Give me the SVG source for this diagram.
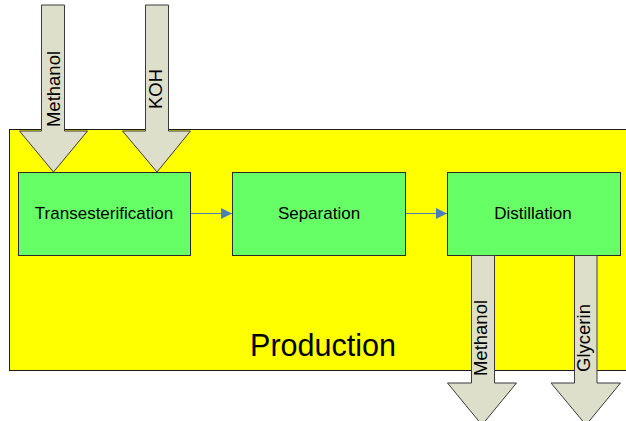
<svg xmlns="http://www.w3.org/2000/svg" width="626" height="421" viewBox="0 0 626 421">
  <style>
    .txt { font-family: "Liberation Sans", Arial, sans-serif; fill: #000; }
    .box { fill: #66FF66; stroke: #2a2a2a; stroke-width: 1; }
    .flow { fill: #DDDFCB; stroke: #3a3a3a; stroke-width: 1; stroke-linejoin: miter; }
    .conn { stroke: #4A7EBB; stroke-width: 1.2; fill: none; }
  </style>
  <defs>
    <marker id="arr" markerWidth="11" markerHeight="11" refX="11" refY="5.5" orient="auto" markerUnits="userSpaceOnUse">
      <path d="M0,0 L11,5.5 L0,11 Z" fill="#4A7EBB"/>
    </marker>
  </defs>
  <rect width="626" height="421" fill="#FFFFFF"/>

  <g id="production">
    <rect x="9.5" y="129.5" width="620" height="241" fill="#FFFF00" stroke="#1a1a1a" stroke-width="1"/>
    <text class="txt" x="323" y="356" font-size="30.5" text-anchor="middle">Production</text>
  </g>

  <g id="input-methanol">
    <path class="flow" d="M41.5,5 L64.5,5 L64.5,131 L87.5,131 L53.5,172 L19.5,131 L41.5,131 Z"/>
    <text class="txt" font-size="18.5" text-anchor="middle" transform="translate(60,89) rotate(-90)">Methanol</text>
  </g>

  <g id="input-koh">
    <path class="flow" d="M145.5,5 L168.5,5 L168.5,131 L190.5,131 L157,172 L122.5,131 L145.5,131 Z"/>
    <text class="txt" font-size="18.5" text-anchor="middle" transform="translate(162,89) rotate(-90)">KOH</text>
  </g>

  <g id="transesterification">
    <rect class="box" x="18.5" y="172.5" width="172" height="83"/>
    <text class="txt" x="104" y="219" font-size="17" text-anchor="middle">Transesterification</text>
  </g>

  <g id="separation">
    <rect class="box" x="232.5" y="172.5" width="173" height="83"/>
    <text class="txt" x="319" y="219" font-size="17" text-anchor="middle">Separation</text>
  </g>

  <g id="distillation">
    <rect class="box" x="447.5" y="172.5" width="173" height="83"/>
    <text class="txt" x="533" y="219" font-size="17" text-anchor="middle">Distillation</text>
  </g>

  <g id="output-methanol">
    <path class="flow" d="M471.5,255.5 L494.5,255.5 L494.5,383 L516.5,383 L482,425 L447.5,383 L471.5,383 Z"/>
    <text class="txt" font-size="18.5" text-anchor="middle" transform="translate(487,338) rotate(-90)">Methanol</text>
  </g>

  <g id="output-glycerin">
    <path class="flow" d="M574.5,255.5 L597,255.5 L597,383 L620.5,383 L586,425 L551,383 L574.5,383 Z"/>
    <text class="txt" font-size="18.5" text-anchor="middle" transform="translate(590,338) rotate(-90)">Glycerin</text>
  </g>

  <g id="connectors">
    <line class="conn" x1="191" y1="213.5" x2="232" y2="213.5" marker-end="url(#arr)"/>
    <line class="conn" x1="406" y1="213.5" x2="447" y2="213.5" marker-end="url(#arr)"/>
  </g>
</svg>
